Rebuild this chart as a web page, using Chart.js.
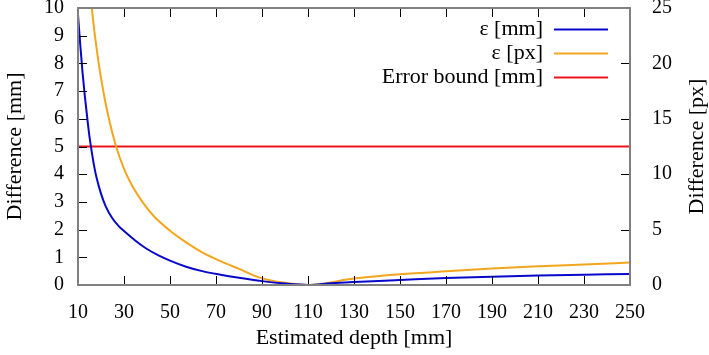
<!DOCTYPE html>
<html>
<head>
<meta charset="utf-8">
<script src="https://cdn.jsdelivr.net/npm/chart.js@4.4.1/dist/chart.umd.min.js"></script>
<style>
  html, body { margin: 0; padding: 0; background: #fff; }
</style>
</head>
<body>
<canvas id="chart-js" width="709" height="355"></canvas>
<script>
// Data //
const blueDepth = [10, 11, 12, 13, 14, 15, 16, 17, 18, 20, 22, 25, 28, 30, 35, 40, 45, 50, 57, 64, 72, 80, 90, 100, 110, 120, 130, 150, 170, 190, 210, 230, 250];
const blueMm = [9.75, 8.65, 7.65, 6.8, 6.05, 5.35, 4.8, 4.3, 3.9, 3.3, 2.85, 2.4, 2.1, 1.95, 1.6, 1.3, 1.07, 0.88, 0.66, 0.5, 0.37, 0.26, 0.14, 0.05, 0, 0.06, 0.11, 0.18, 0.25, 0.3, 0.34, 0.37, 0.4];

const orangeDepth = [16, 17, 18, 19, 20, 22, 24, 26, 28, 31, 34, 38, 43, 50, 57, 64, 72, 80, 90, 100, 110, 130, 150, 170, 190, 210, 230, 250];
const orangePx = [25, 23.1, 21.5, 20.0, 18.7, 16.4, 14.5, 12.9, 11.6, 10.0, 8.8, 7.5, 6.2, 4.9, 3.85, 2.95, 2.15, 1.45, 0.6, 0.2, 0, 0.58, 0.97, 1.24, 1.48, 1.69, 1.85, 2.02];

const boundDepth = [10, 250];
const boundMm = [5, 5];

const xTickLabels = [10, 30, 50, 70, 90, 110, 130, 150, 170, 190, 210, 230, 250];
const yTickLabels = [0, 1, 2, 3, 4, 5, 6, 7, 8, 9, 10];
const y2TickLabels = [0, 5, 10, 15, 20, 25];

const seriesNames = ["ε [mm]", "ε [px]", "Error bound [mm]"];
const y2Title = "Difference [px]";

const toPoints = (xs, ys) => xs.map((x, i) => ({ x: x, y: ys[i] }));
const serif = "'Liberation Serif', 'DejaVu Serif', serif";

// Ticks inside the frame + grey frame, gnuplot style //
const frameTicks = {
  id: "frameTicks",
  afterDatasetsDraw(chart) {
    const { ctx, chartArea: a, scales } = chart;
    const len = 9;
    ctx.save();
    ctx.strokeStyle = "#000";
    ctx.lineWidth = 1;
    ctx.beginPath();
    scales.x.ticks.forEach((t) => {
      const px = Math.round(scales.x.getPixelForValue(t.value)) + 0.5;
      ctx.moveTo(px, a.bottom); ctx.lineTo(px, a.bottom - len);
      ctx.moveTo(px, a.top); ctx.lineTo(px, a.top + len);
    });
    scales.y.ticks.forEach((t) => {
      const py = Math.round(scales.y.getPixelForValue(t.value)) + 0.5;
      ctx.moveTo(a.left, py); ctx.lineTo(a.left + len, py);
    });
    scales.y2.ticks.forEach((t) => {
      const py = Math.round(scales.y2.getPixelForValue(t.value)) + 0.5;
      ctx.moveTo(a.right, py); ctx.lineTo(a.right - len, py);
    });
    ctx.stroke();
    ctx.strokeStyle = "#808080";
    ctx.lineWidth = 2;
    ctx.strokeRect(a.left, a.top, a.right - a.left, a.bottom - a.top);
    ctx.restore();
  },
  afterDraw(chart) {
    const { ctx, chartArea: a } = chart;
    ctx.save();
    // legend: text right aligned, line sample on the right //
    ctx.font = "22px " + serif;
    ctx.textAlign = "right";
    ctx.textBaseline = "middle";
    chart.data.datasets.forEach((ds, i) => {
      const y = 29 + i * 24;
      ctx.fillStyle = "#000";
      ctx.fillText(ds.label, 543, y);
      ctx.strokeStyle = ds.borderColor;
      ctx.lineWidth = 2;
      ctx.beginPath();
      ctx.moveTo(554, y + 0.5);
      ctx.lineTo(608, y + 0.5);
      ctx.stroke();
    });
    // right axis title, reading bottom to top like the left one //
    ctx.translate(697, (a.top + a.bottom) / 2);
    ctx.rotate(-Math.PI / 2);
    ctx.textAlign = "center";
    ctx.fillStyle = "#000";
    ctx.fillText(y2Title, 0, 0);
    ctx.restore();
  },
};

const noVPad = (s, w) => { s.width = w; s.paddingTop = 0; s.paddingBottom = 0; };

const ctx = document.getElementById("chart-js").getContext("2d");

new Chart(ctx, {
  type: "line",
  data: {
    datasets: [
      {
        label: seriesNames[0],
        data: toPoints(blueDepth, blueMm),
        borderColor: "#0808cc",
        yAxisID: "y",
      },
      {
        label: seriesNames[1],
        data: toPoints(orangeDepth, orangePx),
        borderColor: "#f3a51e",
        yAxisID: "y2",
      },
      {
        label: seriesNames[2],
        data: toPoints(boundDepth, boundMm),
        borderColor: "#e8161a",
        yAxisID: "y",
      },
    ],
  },
  options: {
    responsive: false,
    animation: false,
    elements: {
      point: { radius: 0 },
      line: { borderWidth: 2, cubicInterpolationMode: "monotone", fill: false },
    },
    layout: { padding: { top: 8, left: 0, right: 0, bottom: 0 } },
    plugins: {
      legend: { display: false },
      tooltip: { enabled: false },
    },
    scales: {
      x: {
        type: "linear",
        min: 10,
        max: 250,
        afterBuildTicks: (s) => { s.ticks = xTickLabels.map((v) => ({ value: v })); },
        afterFit: (s) => { s.height = 70; },
        grid: { display: false },
        border: { display: false },
        ticks: { color: "#000", font: { family: serif, size: 20 }, padding: 8, maxRotation: 0 },
        title: {
          display: true,
          text: "Estimated depth [mm]",
          color: "#000",
          font: { family: serif, size: 22 },
          padding: { top: 2 },
        },
      },
      y: {
        position: "left",
        min: 0,
        max: 10,
        afterBuildTicks: (s) => { s.ticks = yTickLabels.map((v) => ({ value: v })); },
        afterFit: (s) => noVPad(s, 78),
        grid: { display: false },
        border: { display: false },
        ticks: { color: "#000", font: { family: serif, size: 20 }, padding: 6 },
        title: {
          display: true,
          text: "Difference [mm]",
          color: "#000",
          font: { family: serif, size: 22 },
          padding: { top: 2, bottom: 2 },
        },
      },
      y2: {
        position: "right",
        min: 0,
        max: 25,
        afterBuildTicks: (s) => { s.ticks = y2TickLabels.map((v) => ({ value: v })); },
        afterFit: (s) => noVPad(s, 79),
        grid: { display: false },
        border: { display: false },
        ticks: { color: "#000", font: { family: serif, size: 20 }, padding: 14 },
      },
    },
  },
  plugins: [frameTicks],
});
</script>
</body>
</html>
